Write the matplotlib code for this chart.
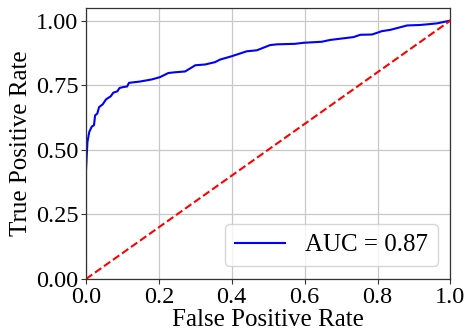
import matplotlib.pyplot as plt
import numpy as np

# ROC curve points
fpr = [0.0, 0.0, 0.004, 0.009, 0.016, 0.022, 0.025, 0.031, 0.036, 0.046, 0.055,
       0.068, 0.075, 0.086, 0.092, 0.10, 0.113, 0.118, 0.148, 0.18, 0.203, 0.226,
       0.245, 0.272, 0.30, 0.327, 0.354, 0.368, 0.40, 0.441, 0.469, 0.505, 0.524,
       0.574, 0.597, 0.647, 0.67, 0.734, 0.753, 0.785, 0.812, 0.835, 0.881, 0.918,
       0.963, 1.0]
tpr = [0.0, 0.42, 0.53, 0.569, 0.59, 0.595, 0.633, 0.64, 0.665, 0.676, 0.695,
       0.707, 0.721, 0.726, 0.739, 0.742, 0.745, 0.759, 0.764, 0.772, 0.781, 0.797,
       0.80, 0.803, 0.827, 0.83, 0.839, 0.849, 0.862, 0.881, 0.885, 0.905, 0.908,
       0.91, 0.914, 0.918, 0.925, 0.936, 0.945, 0.946, 0.959, 0.964, 0.981, 0.983,
       0.989, 1.0]
auc_value = 0.87

plt.rcParams['font.family'] = ['Liberation Serif', 'DejaVu Serif']

fig = plt.figure(figsize=(4.66, 3.35), dpi=100)
ax = fig.add_axes([0.1845, 0.1672, 0.782, 0.81])

ax.plot(fpr, tpr, color='blue', lw=1.5, label='AUC = %.2f' % auc_value)
ax.plot([0, 1], [0, 1], color='red', lw=1.5, linestyle='--')

ax.set_xlim(0, 1.0)
ax.set_ylim(0, 1.05)
ax.set_xticks([0.0, 0.2, 0.4, 0.6, 0.8, 1.0])
ax.set_yticks([0.0, 0.25, 0.5, 0.75, 1.0])
ax.set_xticklabels(['0.0', '0.2', '0.4', '0.6', '0.8', '1.0'])
ax.set_yticklabels(['0.00', '0.25', '0.50', '0.75', '1.00'])
ax.tick_params(labelsize=17.5, color='#333333', width=0.8, length=3.5, pad=2)
ax.set_xlabel('False Positive Rate', fontsize=18, labelpad=1)
ax.set_ylabel('True Positive Rate', fontsize=18, labelpad=3)
ax.grid(True, color='#c8c8c8', lw=0.9)
for s in ax.spines.values():
    s.set_color('#333333')
    s.set_linewidth(0.9)

ax.legend(loc='lower right', fontsize=18)

fig.savefig('out.png', dpi=100)
